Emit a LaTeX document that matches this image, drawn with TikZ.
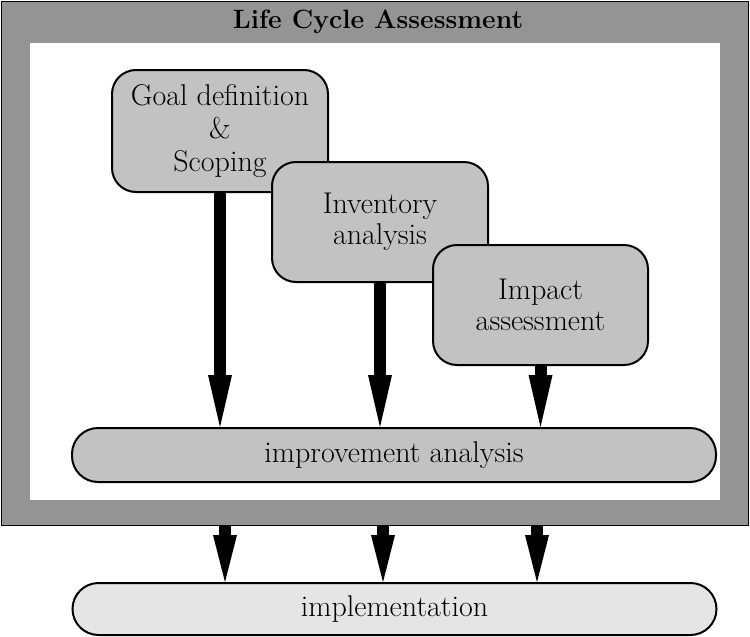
\documentclass[tikz,border=0pt]{standalone}
\usepackage{fontspec}
\usetikzlibrary{arrows.meta}
\begin{document}
\begin{tikzpicture}[x=1pt,y=-1pt,
  boxfont/.style={font=\fontsize{30}{31}\selectfont},
  stagebox/.style={draw=black, line width=2pt, rounded corners=24pt,
    fill=black!24, align=center, inner sep=0pt,
    minimum width=216pt, minimum height=120pt, boxfont},
  barbox/.style={draw=black, line width=2pt, rounded corners=26pt,
    align=center, inner sep=0pt, minimum width=644pt, minimum height=54pt, boxfont},
  flow/.style={line width=12pt, -{Triangle[width=24pt,length=52pt,line width=0pt]}},
  shortflow/.style={line width=12pt, -{Triangle[width=24pt,length=47pt,line width=0pt]}}]
\useasboundingbox (0,0) rectangle (750,637);

% outer LCA frame with its white working area
\node[draw=black, line width=1.5pt, fill=black!42, inner sep=0pt,
      minimum width=747pt, minimum height=524pt, anchor=north west] (lca) at (0.75,0.75) {};
\node[fill=white, inner sep=0pt, minimum width=690pt, minimum height=457pt,
      anchor=north west] (inner) at (30,43) {};
\node[font=\fontsize{26.5}{28}\selectfont\bfseries] (title) at (378,22) {Life Cycle Assessment};

% the three overlapping stages
\node[stagebox, minimum height=122pt, font=\fontsize{30}{33}\selectfont] (goal) at (220,131) {Goal definition\\\&\\Scoping};
\node[stagebox] (inv) at (380,222) {Inventory\\analysis};
\node[stagebox, minimum width=215pt] (imp) at (540.5,305) {Impact\\assessment};

% bars
\node[barbox, fill=black!24] (impr) at (394,455) {improvement analysis};
\node[barbox, fill=black!10, minimum height=52pt] (impl) at (394.5,609) {implementation};

% stage arrows into the improvement bar
\draw[flow] (goal.south) -- (goal.south |- impr.north);
\draw[flow] (inv.south) -- (inv.south |- impr.north);
\draw[flow] (imp.south) -- (imp.south |- impr.north);

% arrows from the frame down to implementation
\coordinate (c1) at (225,0);
\coordinate (c2) at (383,0);
\coordinate (c3) at (537,0);
\draw[shortflow] (lca.south -| c1) -- (impl.north -| c1);
\draw[shortflow] (lca.south -| c2) -- (impl.north -| c2);
\draw[shortflow] (lca.south -| c3) -- (impl.north -| c3);
\end{tikzpicture}
\end{document}
